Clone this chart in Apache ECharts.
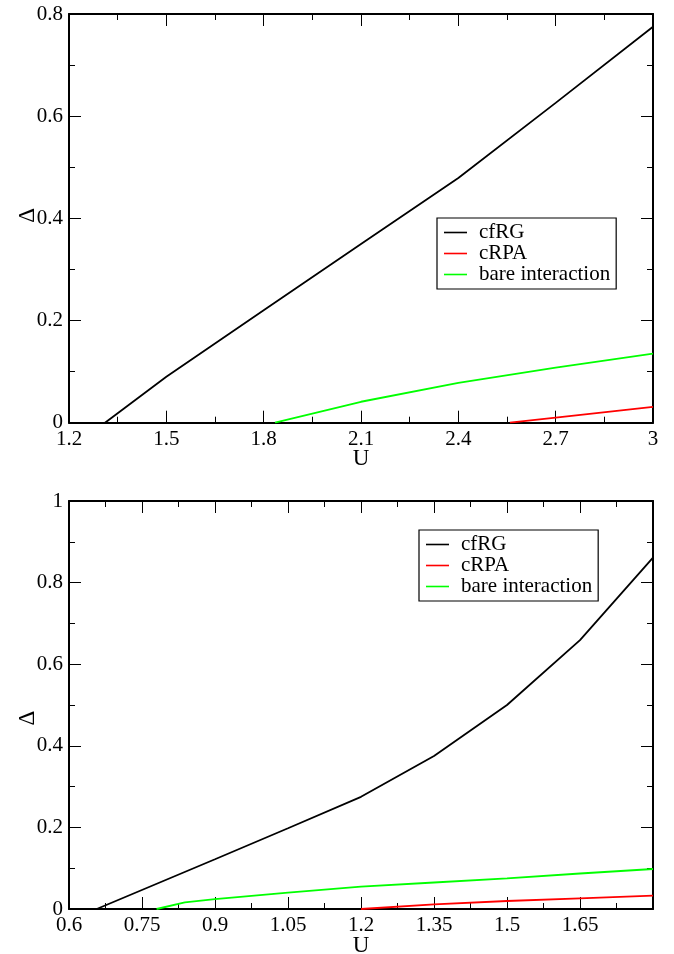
<!DOCTYPE html>
<html>
<head>
<meta charset="utf-8">
<script src="https://cdn.jsdelivr.net/npm/echarts@6/dist/echarts.min.js"></script>
<style>
html,body{margin:0;padding:0;background:#fff;}
#c{width:674px;height:954px;}
</style>
</head>
<body>
<div id="c"></div>
<script>
// ---- Data ----
var seriesNames = ['cfRG', 'cRPA', 'bare interaction'];

// Top panel
var topCfrgU = [1.311, 1.5, 1.8, 2.1, 2.4, 2.7, 3.0];
var topCfrgD = [0, 0.090, 0.220, 0.350, 0.479, 0.626, 0.775];
var topRpaU  = [2.559, 2.7, 3.0];
var topRpaD  = [0, 0.010, 0.031];
var topBareU = [1.835, 2.1, 2.4, 2.7, 3.0];
var topBareD = [0, 0.041, 0.078, 0.108, 0.135];

// Bottom panel
var botCfrgU = [0.657, 0.9, 1.05, 1.2, 1.35, 1.5, 1.65, 1.8];
var botCfrgD = [0, 0.122, 0.198, 0.275, 0.375, 0.500, 0.659, 0.861];
var botRpaU  = [1.2, 1.35, 1.5, 1.65, 1.8];
var botRpaD  = [0, 0.0114, 0.0196, 0.026, 0.0326];
var botBareU = [0.78, 0.838, 0.9, 1.05, 1.2, 1.35, 1.5, 1.65, 1.8];
var botBareD = [0, 0.0163, 0.0240, 0.040, 0.055, 0.065, 0.075, 0.087, 0.098];

// Axis tick settings
var topX = {min: 1.2, max: 3.0, interval: 0.3};
var topY = {min: 0, max: 0.8, interval: 0.2};
var botX = {min: 0.6, max: 1.8, interval: 0.15};
var botY = {min: 0, max: 1.0, interval: 0.2};

function pairs(u, d) { return u.map(function (v, i) { return [v, d[i]]; }); }

var FONT = '"Liberation Serif", "Times New Roman", "DejaVu Serif", serif';
var colors = ['#000000', '#ff0000', '#00ff00'];

function axisBase(range, showLabel, extra) {
  var a = {
    type: 'value', min: range.min, max: range.max, interval: range.interval,
    axisLine: {show: true, onZero: false, lineStyle: {color: '#000', width: 2}},
    axisTick: {show: true, inside: true, length: 12, lineStyle: {color: '#000', width: 1}},
    minorTick: {show: true, splitNumber: 2, length: 6, lineStyle: {color: '#000', width: 1}},
    splitLine: {show: false},
    nameMoveOverlap: false,
    axisLabel: {show: showLabel, color: '#000', fontFamily: FONT, fontSize: 21, margin: 6}
  };
  for (var k in extra) a[k] = extra[k];
  return a;
}

var grids = [
  {left: 69, right: 21, top: 14, height: 408.7, containLabel: false, outerBoundsMode: 'none'},
  {left: 69, right: 21, top: 501, height: 408, containLabel: false, outerBoundsMode: 'none'}
];

var nameStyle = {color: '#000', fontFamily: FONT, fontSize: 23};
var nameStyleTopY = {color: '#000', fontFamily: FONT, fontSize: 23, padding: [0, 0, 0, 6]};
var nameStyleBotY = {color: '#000', fontFamily: FONT, fontSize: 23, padding: [0, 26, 0, 0]};

var xAxes = [
  axisBase(topX, true, {gridIndex: 0, position: 'bottom', name: 'U', nameLocation: 'middle', nameGap: 25, nameTextStyle: nameStyle}),
  axisBase(topX, false, {gridIndex: 0, position: 'top'}),
  axisBase(botX, true, {gridIndex: 1, position: 'bottom', name: 'U', nameLocation: 'middle', nameGap: 25, nameTextStyle: nameStyle}),
  axisBase(botX, false, {gridIndex: 1, position: 'top'})
];
xAxes[2].axisLabel.showMaxLabel = false;

var yAxes = [
  axisBase(topY, true, {gridIndex: 0, position: 'left', name: 'Δ', nameLocation: 'middle', nameGap: 30, nameTextStyle: nameStyleTopY}),
  axisBase(topY, false, {gridIndex: 0, position: 'right'}),
  axisBase(botY, true, {gridIndex: 1, position: 'left', name: 'Δ', nameLocation: 'middle', nameGap: 30, nameTextStyle: nameStyleBotY}),
  axisBase(botY, false, {gridIndex: 1, position: 'right'})
];

function line(name, data, xi, yi, color) {
  return {
    name: name, type: 'line', xAxisIndex: xi, yAxisIndex: yi, data: data,
    showSymbol: false, symbol: 'none', smooth: false, animation: false,
    lineStyle: {color: color, width: 1.8}, itemStyle: {color: color}
  };
}

var series = [
  line('cfRG', pairs(topCfrgU, topCfrgD), 0, 0, colors[0]),
  line('cRPA', pairs(topRpaU, topRpaD), 0, 0, colors[1]),
  line('bare interaction', pairs(topBareU, topBareD), 0, 0, colors[2]),
  line('cfRG', pairs(botCfrgU, botCfrgD), 2, 2, colors[0]),
  line('cRPA', pairs(botRpaU, botRpaD), 2, 2, colors[1]),
  line('bare interaction', pairs(botBareU, botBareD), 2, 2, colors[2])
];

function legend(left, top) {
  return {
    data: seriesNames, left: left, top: top, orient: 'vertical',
    icon: 'rect', itemWidth: 23, itemHeight: 1.6, itemGap: 0,
    borderColor: '#000', borderWidth: 1.2, padding: [4, 6, 4, 7],
    selectedMode: false,
    textStyle: {color: '#000', fontFamily: FONT, fontSize: 21, lineHeight: 20, padding: [0, 0, 0, 7]}
  };
}

var chart = echarts.init(document.getElementById('c'), null, {renderer: 'canvas'});
chart.setOption({
  backgroundColor: '#fff',
  animation: false,
  textStyle: {fontFamily: FONT},
  grid: grids,
  xAxis: xAxes,
  yAxis: yAxes,
  legend: [legend(437, 218), legend(419, 530)],
  series: series
});
</script>
</body>
</html>
